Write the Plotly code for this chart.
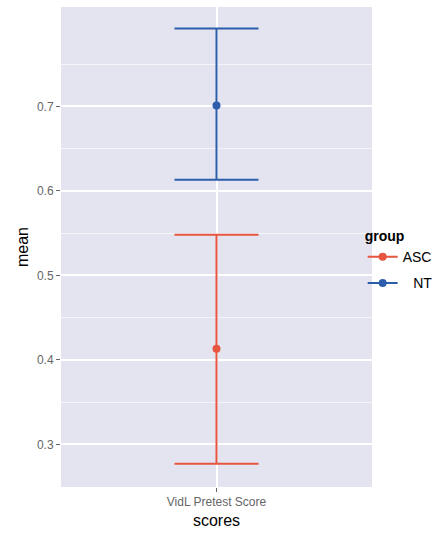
import plotly.graph_objects as go

categories = ["VidL Pretest Score"]
groups = ["ASC", "NT"]
legend_labels = ["ASC", "\u2007\u2009NT"]
means = [0.413, 0.701]
upper = [0.548, 0.792]
lower = [0.277, 0.613]
colors = ["#E5553F", "#2B5DAA"]
major_ticks = [0.3, 0.4, 0.5, 0.6, 0.7]
minor_ticks = [0.25, 0.35, 0.45, 0.55, 0.65, 0.75]

fig = go.Figure()
for g, lab, m, u, l, c in zip(groups, legend_labels, means, upper, lower, colors):
    fig.add_trace(go.Scatter(
        x=categories, y=[m], name=lab, legendgroup=g, mode="lines+markers",
        marker=dict(color=c, size=8),
        line=dict(color=c, width=2),
        error_y=dict(type="data", symmetric=False, array=[u - m], arrayminus=[m - l],
                     color=c, thickness=2, width=42),
    ))

fig.update_layout(
    width=446, height=536,
    margin=dict(l=61, r=74, t=7, b=49),
    plot_bgcolor="#E4E4F1", paper_bgcolor="white",
    font=dict(family="Liberation Sans, Arial, sans-serif", color="#555555", size=12),
    showlegend=True,
    legend=dict(
        title=dict(text="<b>group</b>", font=dict(size=14, color="black")),
        x=0.97, xanchor="left", y=0.55, yanchor="top",
        font=dict(size=14, color="black"),
        bgcolor="rgba(0,0,0,0)",
        traceorder="grouped", tracegroupgap=5,
        itemwidth=30,
    ),
    xaxis=dict(
        type="category", range=[-0.6, 0.6],
        showgrid=True, gridcolor="white", gridwidth=1.5,
        ticks="outside", ticklen=4, tickcolor="#666666",
        tickfont=dict(size=12, color="#666666"),
        title=dict(text="scores", font=dict(size=16, color="black"), standoff=6),
        zeroline=False,
    ),
    yaxis=dict(
        range=[0.2495, 0.8175],
        tickmode="array", tickvals=major_ticks, tickformat=".1f",
        showgrid=True, gridcolor="white", gridwidth=1.5,
        minor=dict(tickmode="array", tickvals=minor_ticks, showgrid=True,
                   gridcolor="rgba(255,255,255,0.6)", gridwidth=0.7),
        ticks="outside", ticklen=4, tickcolor="#666666",
        tickfont=dict(size=12, color="#666666"),
        title=dict(text="mean", font=dict(size=16, color="black"), standoff=4),
        zeroline=False,
    ),
)

fig.write_html("out.html")
